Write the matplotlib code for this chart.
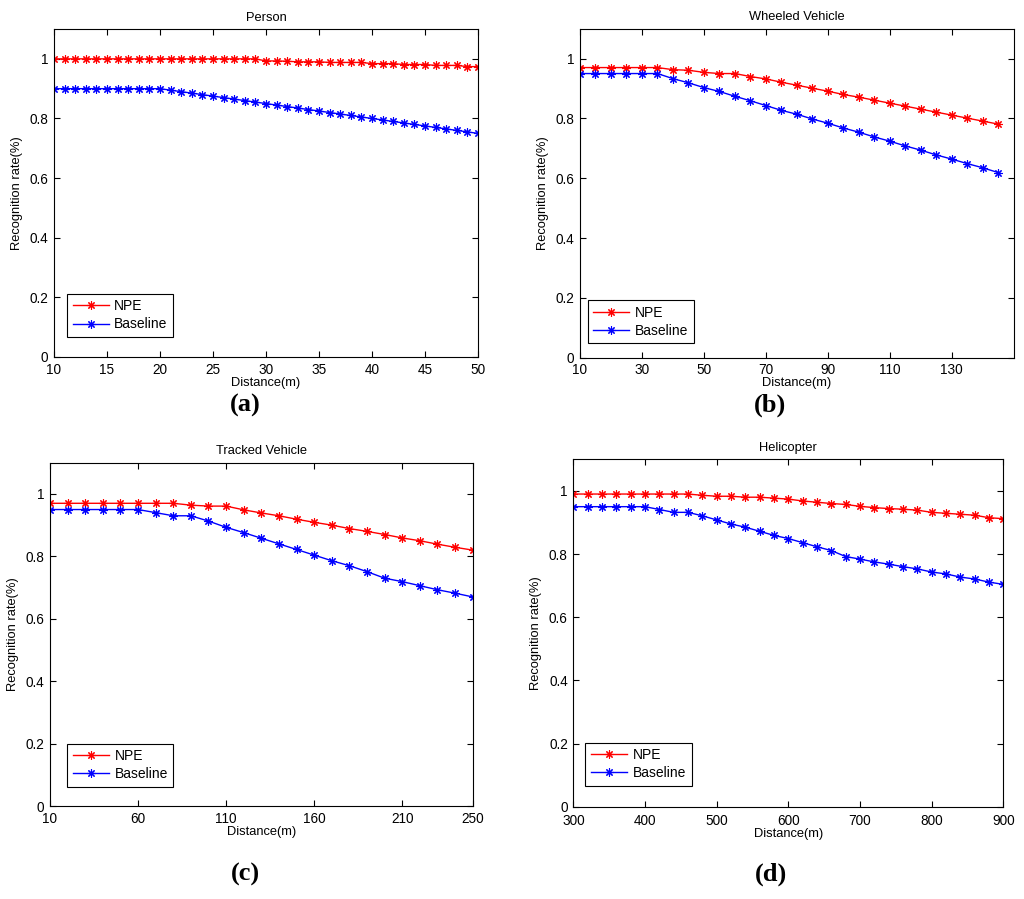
#!/usr/bin/env python3
"""
Recognition rate vs distance for four target classes (NPE vs Baseline)
"""

import matplotlib
matplotlib.use('Agg')
import matplotlib.pyplot as plt

# (a) Person
person_x = list(range(10, 51))
person_npe = [1.0] * 20 + [0.993, 0.993, 0.992, 0.990, 0.990, 0.990, 0.988, 0.988, 0.988, 0.988,
                           0.984, 0.984, 0.984, 0.981, 0.981, 0.981, 0.978, 0.978, 0.978, 0.974, 0.974]
person_base = [0.9] * 11 + [0.895, 0.89, 0.885, 0.88, 0.875, 0.87, 0.865, 0.86, 0.855, 0.85,
                            0.845, 0.84, 0.835, 0.83, 0.825, 0.82, 0.815, 0.81, 0.805, 0.80,
                            0.795, 0.79, 0.785, 0.78, 0.775, 0.77, 0.765, 0.76, 0.755, 0.75]

# (b) Wheeled Vehicle
wheeled_x = list(range(10, 146, 5))
wheeled_npe = [0.97, 0.97, 0.97, 0.97, 0.97, 0.97, 0.963, 0.961, 0.954, 0.95, 0.95, 0.94, 0.932, 0.921,
               0.911, 0.901, 0.891, 0.88, 0.871, 0.861, 0.851, 0.841, 0.831, 0.821, 0.811, 0.801, 0.791, 0.781]
wheeled_base = [0.95, 0.95, 0.95, 0.95, 0.95, 0.95, 0.933, 0.919, 0.903, 0.89, 0.874, 0.859, 0.843, 0.827,
                0.814, 0.798, 0.784, 0.768, 0.754, 0.738, 0.724, 0.708, 0.694, 0.678, 0.664, 0.649, 0.635, 0.619]

# (c) Tracked Vehicle
tracked_x = list(range(10, 251, 10))
tracked_npe = [0.97, 0.97, 0.97, 0.97, 0.97, 0.97, 0.97, 0.97, 0.964, 0.961, 0.961, 0.949, 0.939,
               0.93, 0.919, 0.909, 0.90, 0.889, 0.88, 0.87, 0.859, 0.85, 0.839, 0.829, 0.82]
tracked_base = [0.95, 0.95, 0.95, 0.95, 0.95, 0.95, 0.94, 0.93, 0.93, 0.913, 0.893, 0.876, 0.858,
                0.84, 0.822, 0.804, 0.786, 0.77, 0.751, 0.73, 0.719, 0.706, 0.693, 0.682, 0.67]

# (d) Helicopter
heli_x = list(range(300, 901, 20))
heli_npe = [0.99] * 9 + [0.986, 0.983, 0.983, 0.98, 0.98, 0.977, 0.974, 0.968, 0.964, 0.96, 0.957,
                         0.951, 0.947, 0.944, 0.942, 0.939, 0.932, 0.929, 0.926, 0.923, 0.915, 0.912]
heli_base = [0.95] * 6 + [0.941, 0.932, 0.932, 0.921, 0.908, 0.895, 0.885, 0.872, 0.859, 0.849, 0.836,
                          0.823, 0.811, 0.792, 0.784, 0.775, 0.768, 0.76, 0.753, 0.743, 0.737, 0.727,
                          0.721, 0.711, 0.704]

yticks = [0, 0.2, 0.4, 0.6, 0.8, 1]
ytick_labels = ['0', '0.2', '0.4', '0.6', '0.8', '1']

plt.rcParams['font.family'] = ['Liberation Sans', 'DejaVu Sans']
FS = 9.3
ASTERISK = (8, 2, 0)


def draw_panel(ax, x, npe, base, title, xlim, xticks, leg_anchor, xpad=4):
    ax.plot(x, npe, color='#ff0000', linewidth=1, marker=ASTERISK, markersize=6,
            markeredgewidth=0.8, label='NPE')
    ax.plot(x, base, color='#0000ff', linewidth=1, marker=ASTERISK, markersize=6,
            markeredgewidth=0.8, label='Baseline')
    ax.set_xlim(*xlim)
    ax.set_ylim(0, 1.1)
    ax.set_xticks(xticks)
    ax.set_xticklabels([str(t) for t in xticks], fontsize=FS + 0.5)
    ax.set_yticks(yticks)
    ax.set_yticklabels(ytick_labels, fontsize=FS + 0.5)
    ax.tick_params(direction='in', top=True, right=True, length=4, width=0.8)
    ax.tick_params(axis='x', pad=xpad)
    ax.tick_params(axis='y', pad=4)
    for sp in ax.spines.values():
        sp.set_linewidth(0.8)
    ax.set_title(title, fontsize=FS, pad=6)
    ax.set_xlabel('Distance(m)', fontsize=FS, labelpad=0)
    ax.set_ylabel('Recognition rate(%)', fontsize=FS, labelpad=5)
    leg = ax.legend(loc='lower left', bbox_to_anchor=leg_anchor, borderaxespad=0,
                    fontsize=FS + 0.7, fancybox=False, framealpha=1, edgecolor='black',
                    handlelength=2.6, handletextpad=0.4, borderpad=0.4, labelspacing=0.3)
    leg.get_frame().set_linewidth(0.8)


fig = plt.figure(figsize=(10.24, 8.99), dpi=100)

ax_a = fig.add_axes([0.0527, 0.6029, 0.4141, 0.3648])
draw_panel(ax_a, person_x, person_npe, person_base, 'Person', (10, 50),
           [10, 15, 20, 25, 30, 35, 40, 45, 50], (0.031, 0.061))

ax_b = fig.add_axes([0.5664, 0.6021, 0.4235, 0.3660])
draw_panel(ax_b, wheeled_x, wheeled_npe, wheeled_base, 'Wheeled Vehicle', (10, 150),
           [10, 30, 50, 70, 90, 110, 130], (0.018, 0.044))

ax_c = fig.add_axes([0.0488, 0.1034, 0.4128, 0.3819])
draw_panel(ax_c, tracked_x, tracked_npe, tracked_base, 'Tracked Vehicle', (10, 250),
           [10, 60, 110, 160, 210, 250], (0.041, 0.056))

ax_d = fig.add_axes([0.5599, 0.1027, 0.4199, 0.3864])
draw_panel(ax_d, heli_x, heli_npe, heli_base, 'Helicopter', (300, 900),
           [300, 400, 500, 600, 700, 800, 900], (0.028, 0.060), xpad=5.5)

# panel letters
for lx, ly, s in [(245, 405, '(a)'), (770, 405, '(b)'), (245, 874, '(c)'), (771, 874, '(d)')]:
    fig.text(lx / 1024, 1 - ly / 899, s, ha='center', va='center',
             fontsize=19, fontweight='bold', family='Liberation Serif')

fig.savefig('out.png', dpi=100)
